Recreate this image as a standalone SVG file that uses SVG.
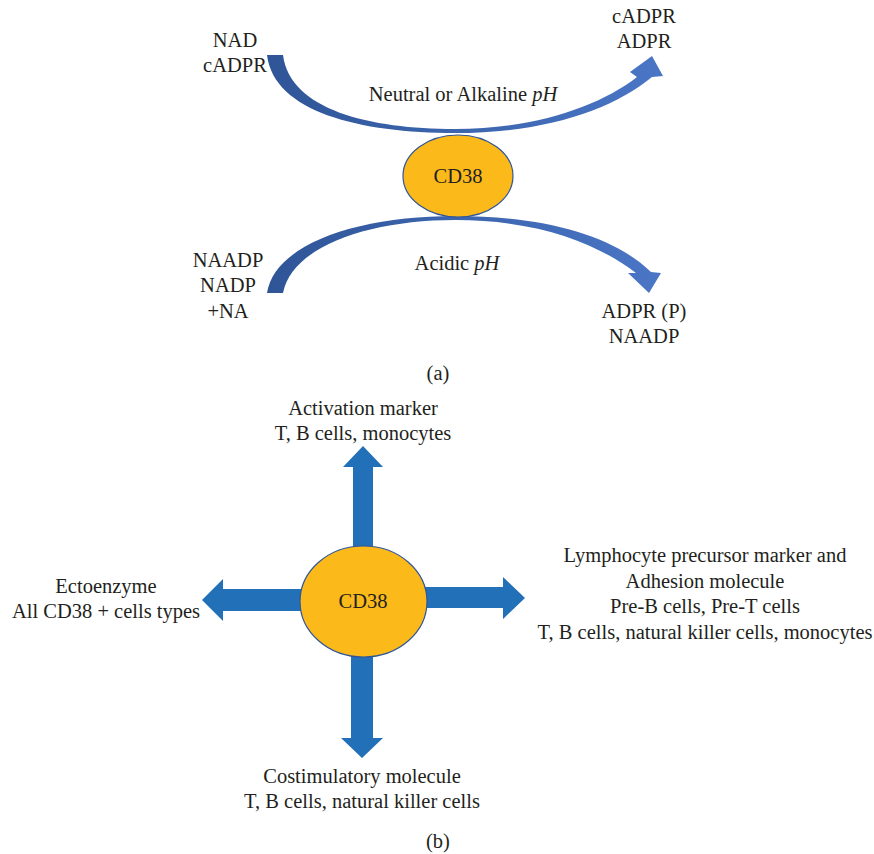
<svg xmlns="http://www.w3.org/2000/svg" width="874" height="854" viewBox="0 0 874 854">
<defs>
<linearGradient id="bandGrad" x1="0" y1="0" x2="1" y2="0">
<stop offset="0" stop-color="#2F5597"/>
<stop offset="1" stop-color="#4A76C6"/>
</linearGradient>
<style>
text{font-family:"Liberation Serif","Times New Roman",serif;font-size:20.5px;fill:#231F20;text-anchor:middle}
.it{font-style:italic}
.node{fill:#FBB91A;stroke:#2F5597;stroke-width:1.2}
.band{fill:url(#bandGrad)}
.arr{fill:#2270B8}
</style>
</defs>
<rect width="874" height="854" fill="#FFFFFF"/>

<g id="connectors">
<path class="band" d="M267,55 C274,112 360,133 455,133 C545,133 612,110 652,77 L663,76 L652,56 L630,72 L637,77 C600,106 535,129 455,129 C370,129 290,110 283,55 Z"/>
<path class="band" d="M267,293 C275,243 360,216 455,216 C540,216 612,234 651,272 L661,273 L649,293 L628,273 L636,273 C598,244 540,220 455,220 C370,220 292,246 283,293 Z"/>
<polygon class="arr" points="353,560 353,467 343,467 363,446 383,467 373,467 373,560"/>
<polygon class="arr" points="351,645 351,738 341,738 362,758 383,738 373,738 373,645"/>
<polygon class="arr" points="315,589 223,589 223,579 202,600 223,621 223,611 315,611"/>
<polygon class="arr" points="412,587 503,587 503,577 525,598 503,619 503,608 412,608"/>
</g>

<g id="cd38-a">
<ellipse class="node" cx="458" cy="176" rx="55" ry="41"/>
<text x="458" y="183">CD38</text>
</g>
<g id="cd38-b">
<ellipse class="node" cx="363.5" cy="601.5" rx="63.5" ry="55.5"/>
<text x="363" y="608">CD38</text>
</g>

<g id="labels-a">
<text x="235" y="47">NAD</text>
<text x="235" y="72">cADPR</text>
<text x="644" y="23">cADPR</text>
<text x="644" y="48">ADPR</text>
<text x="463" y="101">Neutral or Alkaline <tspan class="it">pH</tspan></text>
<text x="457" y="270">Acidic <tspan class="it">pH</tspan></text>
<text x="228" y="267">NAADP</text>
<text x="228" y="292">NADP</text>
<text x="228" y="318">+NA</text>
<text x="644" y="318">ADPR (P)</text>
<text x="644" y="343">NAADP</text>
<text x="438" y="380">(a)</text>
</g>

<g id="labels-b">
<text x="363" y="415">Activation marker</text>
<text x="363" y="440">T, B cells, monocytes</text>
<text x="106" y="593">Ectoenzyme</text>
<text x="106" y="618">All CD38 + cells types</text>
<text x="705" y="562">Lymphocyte precursor marker and</text>
<text x="705" y="587.5">Adhesion molecule</text>
<text x="705" y="613">Pre-B cells, Pre-T cells</text>
<text x="705" y="638.5">T, B cells, natural killer cells, monocytes</text>
<text x="362" y="783">Costimulatory molecule</text>
<text x="362" y="808">T, B cells, natural killer cells</text>
<text x="438" y="848">(b)</text>
</g>
</svg>
